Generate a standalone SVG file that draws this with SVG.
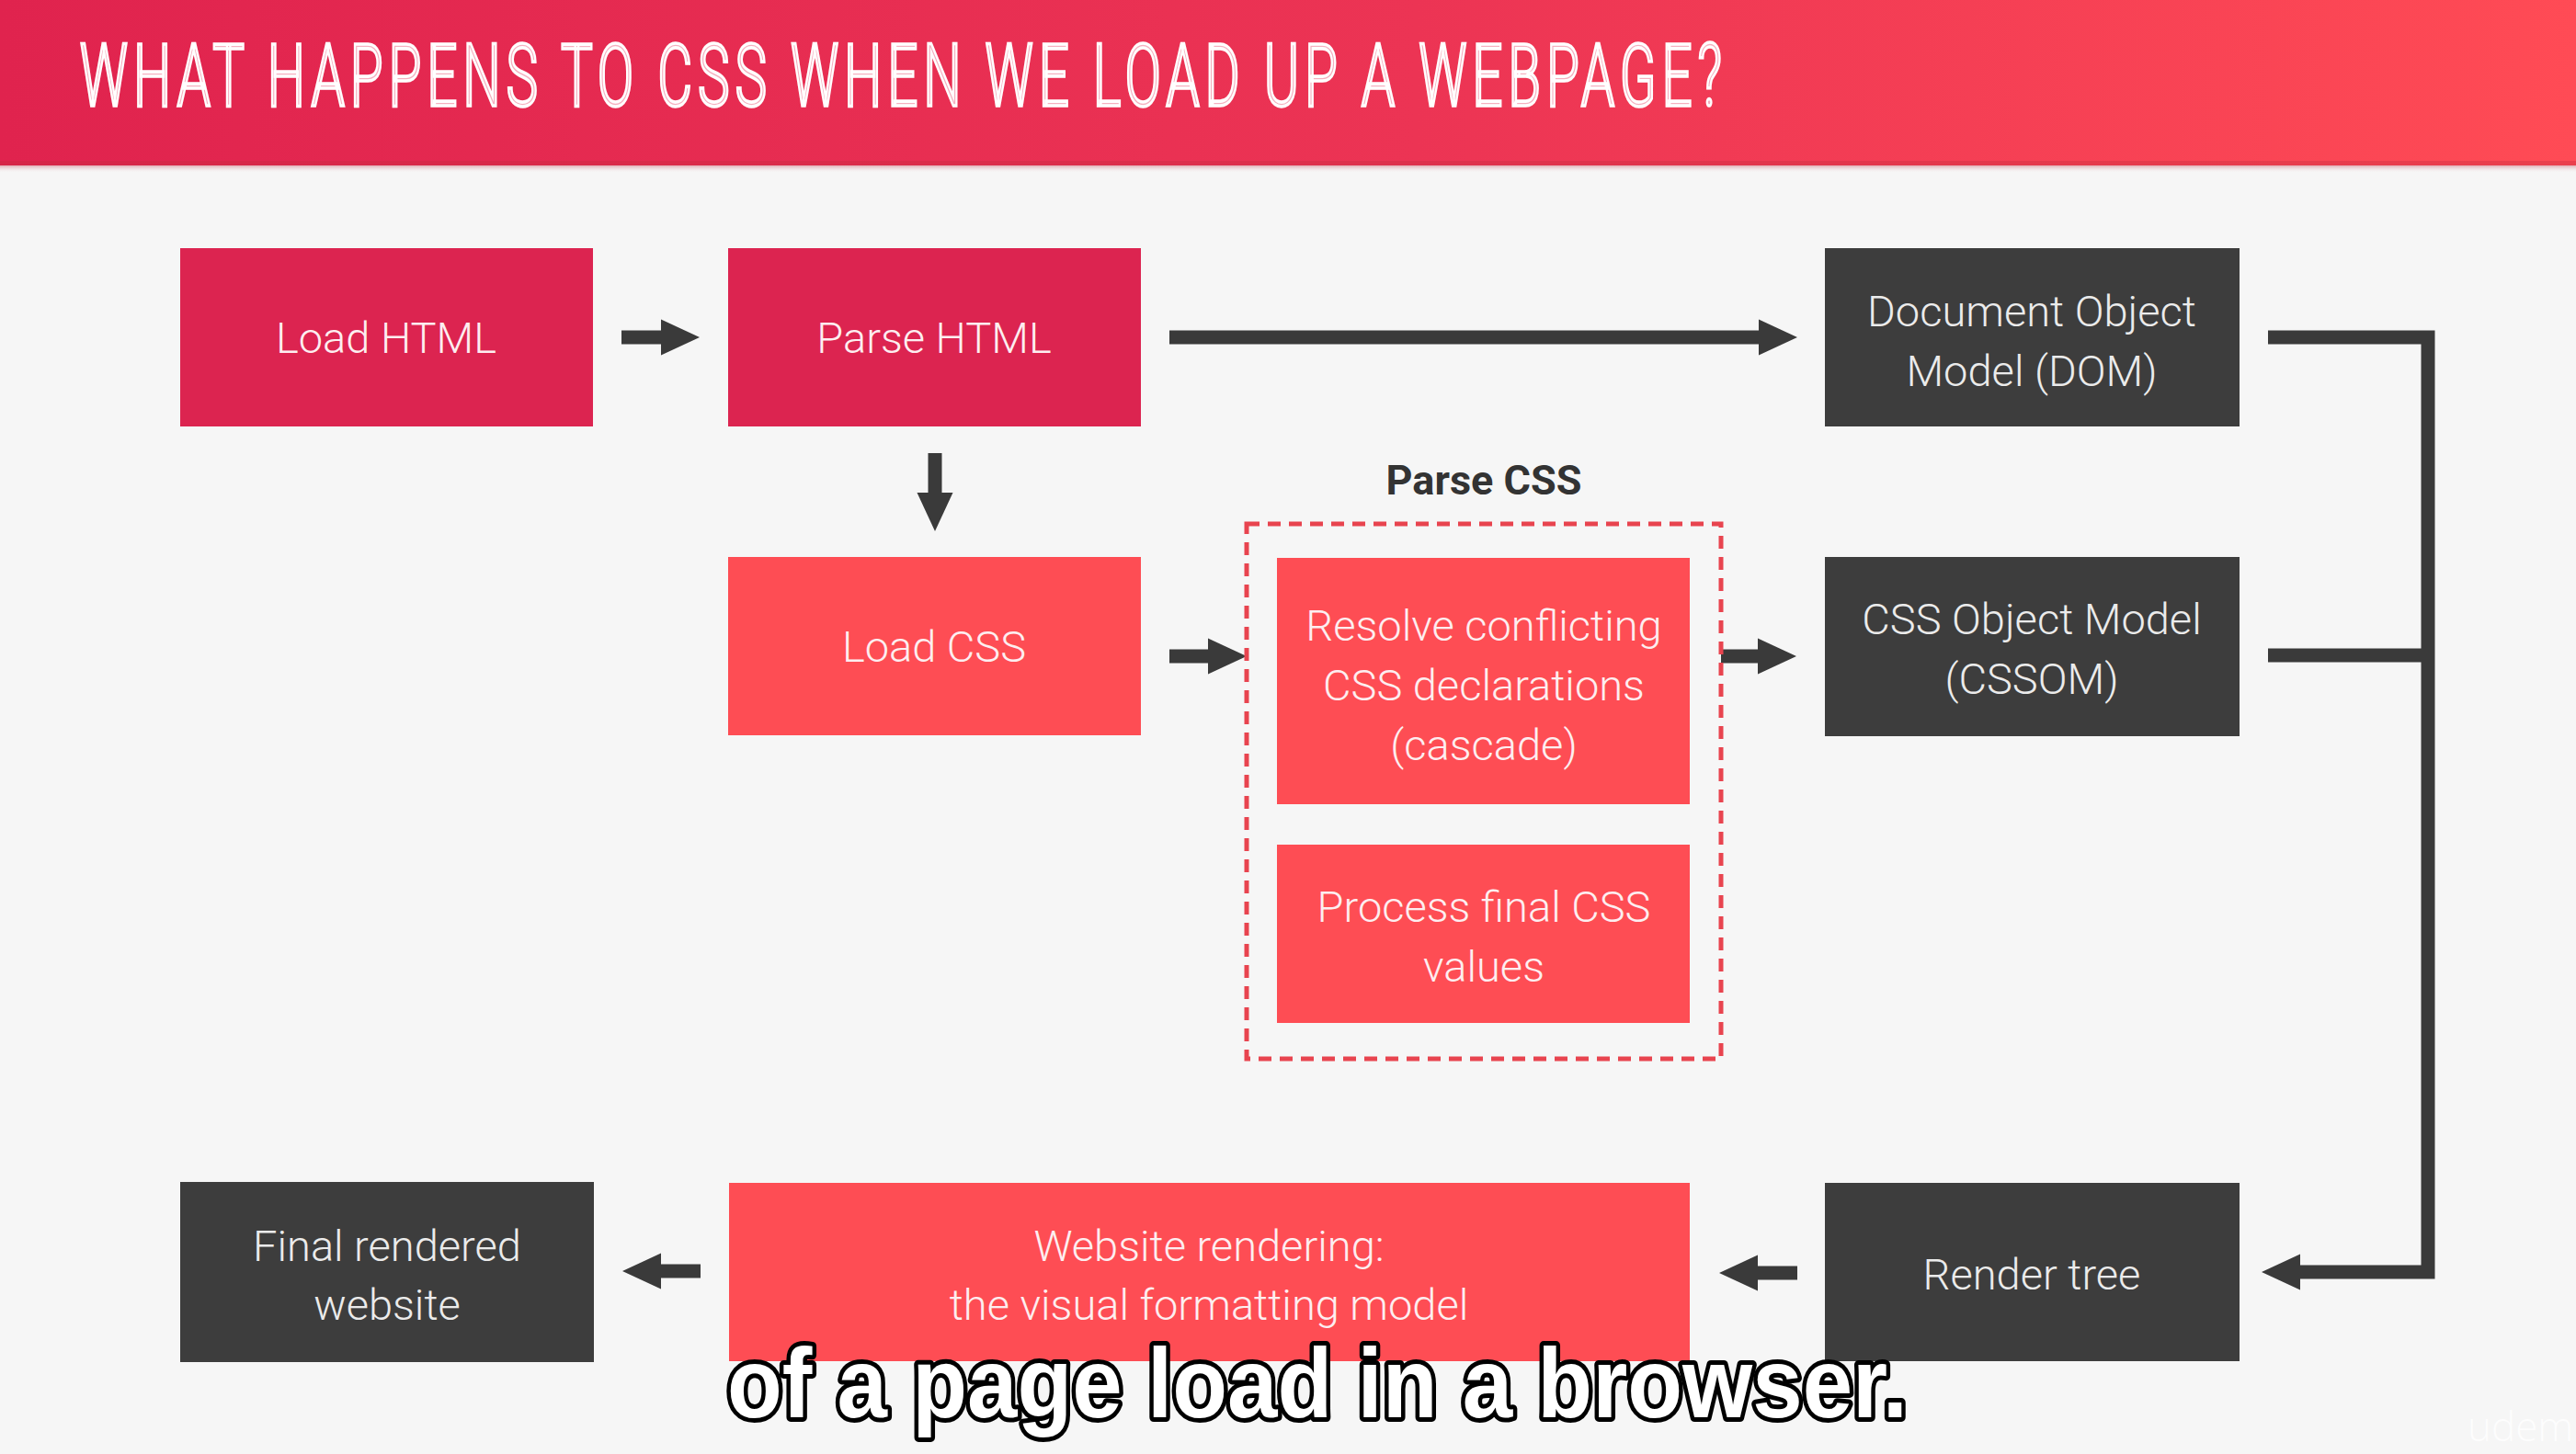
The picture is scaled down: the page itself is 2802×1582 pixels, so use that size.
<svg xmlns="http://www.w3.org/2000/svg" width="2802" height="1582" viewBox="0 0 2802 1582">
  <defs>
    <linearGradient id="hdr" x1="0" y1="0" x2="1" y2="0">
      <stop offset="0" stop-color="#e0234e"/>
      <stop offset="0.55" stop-color="#ec3454"/>
      <stop offset="1" stop-color="#ff4b55"/>
    </linearGradient>
    <linearGradient id="hdrShade" x1="0" y1="0" x2="0" y2="1">
      <stop offset="0" stop-color="#b8283c" stop-opacity="0.35"/>
      <stop offset="1" stop-color="#f6f6f6" stop-opacity="0"/>
    </linearGradient>
    <marker id="head" markerUnits="userSpaceOnUse" markerWidth="44" markerHeight="40" refX="0" refY="19.5" orient="auto" overflow="visible">
      <path d="M0,0 L42,19.5 L0,39 Z" fill="#3a3a3a"/>
    </marker>
    <style>
      .crimson { fill: #dc2450; }
      .coral { fill: #fe4d54; }
      .dark { fill: #3d3d3d; }
      .lbl { font-family: Roboto, "Liberation Sans", sans-serif; font-weight: 300; font-size: 47px; text-anchor: middle; }
      .lbl-light { fill: #fdeef0; }
      .lbl-dark { fill: #ebebeb; }
      .conn { fill: none; stroke: #3a3a3a; stroke-width: 15; stroke-linecap: butt; stroke-linejoin: miter; }
      .title { font-family: Roboto, "Liberation Sans Narrow", sans-serif; font-weight: 300; font-size: 94px; }
    </style>
  </defs>

  <!-- page background -->
  <rect x="0" y="0" width="2802" height="1582" fill="#f6f6f6"/>

  <!-- header band -->
  <g id="header">
    <rect x="0" y="0" width="2802" height="180" fill="url(#hdr)"/>
    <rect x="0" y="175" width="2802" height="5" fill="#c42a40" opacity="0.35"/>
    <rect x="0" y="180" width="2802" height="8" fill="url(#hdrShade)"/>
    <!-- condensed inline-style headline: narrow glyphs, open tracking, pale fill with white outline -->
    <g transform="scale(0.62 1)">
      <text class="title" x="140" y="115" textLength="2881" lengthAdjust="spacing" fill="#f5afbf" stroke="#ffffff" stroke-width="3.6">WHAT HAPPENS TO CSS WHEN WE LOAD UP A WEBPAGE?</text>
    </g>
  </g>

  <!-- connectors -->
  <g id="connectors">
    <line class="conn" x1="676" y1="367" x2="719" y2="367" marker-end="url(#head)"/>
    <line class="conn" x1="1272" y1="367" x2="1913" y2="367" marker-end="url(#head)"/>
    <line class="conn" x1="1017" y1="493" x2="1017" y2="536" marker-end="url(#head)"/>
    <line class="conn" x1="1272" y1="714" x2="1314" y2="714" marker-end="url(#head)"/>
    <line class="conn" x1="1872" y1="714" x2="1912" y2="714" marker-end="url(#head)"/>
    <polyline class="conn" points="2467,367 2641,367 2641,1384 2502,1384" marker-end="url(#head)"/>
    <line class="conn" x1="2467" y1="713" x2="2641" y2="713"/>
    <line class="conn" x1="1955" y1="1385" x2="1912" y2="1385" marker-end="url(#head)"/>
    <line class="conn" x1="762" y1="1383" x2="719" y2="1383" marker-end="url(#head)"/>
  </g>

  <!-- HTML stage -->
  <g id="load-html">
    <rect class="crimson" x="196" y="270" width="449" height="194"/>
    <text class="lbl lbl-light" x="420" y="384">Load HTML</text>
  </g>
  <g id="parse-html">
    <rect class="crimson" x="792" y="270" width="449" height="194"/>
    <text class="lbl lbl-light" x="1016" y="384">Parse HTML</text>
  </g>
  <g id="load-css">
    <rect class="coral" x="792" y="606" width="449" height="194"/>
    <text class="lbl lbl-light" x="1016" y="720">Load CSS</text>
  </g>

  <!-- CSS parsing group -->
  <g id="parse-css">
    <text x="1614" y="538" font-family="Roboto, 'Liberation Sans', sans-serif" font-weight="700" font-size="45" fill="#333333" text-anchor="middle">Parse CSS</text>
    <rect x="1356" y="570" width="516" height="582" fill="none" stroke="#e8444f" stroke-width="5" stroke-dasharray="14 9"/>
  </g>
  <g id="resolve-conflicts">
    <rect class="coral" x="1389" y="607" width="449" height="268"/>
    <text class="lbl lbl-light" x="1614" y="697">Resolve conflicting</text>
    <text class="lbl lbl-light" x="1614" y="762">CSS declarations</text>
    <text class="lbl lbl-light" x="1614" y="827">(cascade)</text>
  </g>
  <g id="process-values">
    <rect class="coral" x="1389" y="919" width="449" height="194"/>
    <text class="lbl lbl-light" x="1614" y="1003">Process final CSS</text>
    <text class="lbl lbl-light" x="1614" y="1068">values</text>
  </g>

  <!-- object models -->
  <g id="dom">
    <rect class="dark" x="1985" y="270" width="451" height="194"/>
    <text class="lbl lbl-dark" x="2210" y="355">Document Object</text>
    <text class="lbl lbl-dark" x="2210" y="420">Model (DOM)</text>
  </g>
  <g id="cssom">
    <rect class="dark" x="1985" y="606" width="451" height="195"/>
    <text class="lbl lbl-dark" x="2210" y="690">CSS Object Model</text>
    <text class="lbl lbl-dark" x="2210" y="755">(CSSOM)</text>
  </g>

  <!-- rendering row -->
  <g id="render-tree">
    <rect class="dark" x="1985" y="1287" width="451" height="194"/>
    <text class="lbl lbl-dark" x="2210" y="1403">Render tree</text>
  </g>
  <g id="website-rendering">
    <rect class="coral" x="793" y="1287" width="1045" height="194"/>
    <text class="lbl lbl-light" x="1315" y="1372">Website rendering:</text>
    <text class="lbl lbl-light" x="1315" y="1436">the visual formatting model</text>
  </g>
  <g id="final-website">
    <rect class="dark" x="196" y="1286" width="450" height="196"/>
    <text class="lbl lbl-dark" x="421" y="1372">Final rendered</text>
    <text class="lbl lbl-dark" x="421" y="1436">website</text>
  </g>

  <!-- caption overlay -->
  <text x="791" y="1542" textLength="1284" lengthAdjust="spacingAndGlyphs" font-family="'Liberation Sans', Arial, sans-serif" font-weight="700" font-size="108" fill="#ffffff" stroke="#000000" stroke-width="10" stroke-linejoin="round" paint-order="stroke">of a page load in a browser.</text>

  <!-- faint watermark -->
  <text x="2684" y="1568" font-family="'Open Sans', 'Liberation Sans', sans-serif" font-weight="300" font-size="44" fill="#ffffff" opacity="0.8">udem</text>
</svg>
